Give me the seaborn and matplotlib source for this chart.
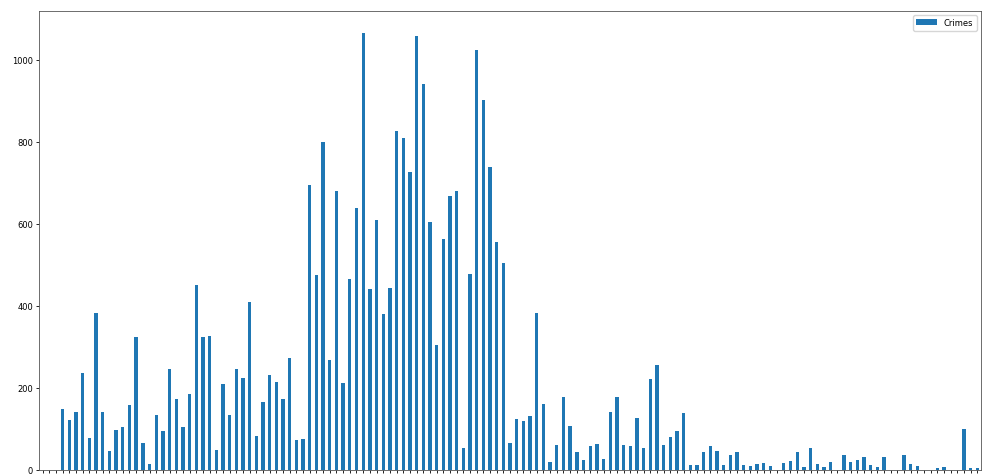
import matplotlib
matplotlib.use('Agg')
import matplotlib.pyplot as plt
import pandas as pd
import seaborn as sns

# Crime counts, one value per category (141 bars)
crimes = [
    0, 0, 0, 148, 121, 142, 237, 78, 383, 140,
    45, 97, 105, 159, 324, 66, 15, 133, 94, 247,
    173, 105, 185, 450, 325, 327, 47, 208, 133, 247,
    223, 410, 82, 165, 231, 214, 172, 272, 72, 76,
    694, 476, 801, 268, 680, 212, 465, 638, 1067, 441,
    610, 380, 443, 826, 810, 727, 1059, 941, 604, 305,
    564, 668, 681, 53, 477, 1024, 902, 738, 556, 504,
    66, 124, 120, 131, 383, 160, 20, 60, 177, 106,
    42, 24, 58, 62, 27, 140, 177, 60, 58, 126,
    52, 221, 255, 60, 79, 95, 138, 11, 11, 43,
    58, 46, 12, 35, 42, 12, 8, 15, 16, 9,
    0, 16, 21, 42, 6, 54, 15, 6, 19, 0,
    35, 19, 23, 31, 12, 6, 31, 0, 0, 35,
    15, 8, 0, 0, 3, 6, 0, 0, 99, 3,
    3,
]
categories = [str(i) for i in range(len(crimes))]

df = pd.DataFrame({'category': categories, 'Crimes': crimes})

fig = plt.figure(figsize=(9.91, 4.77), dpi=100)
ax = fig.add_axes([0.0397, 0.0132, 0.950, 0.9623])

sns.barplot(data=df, x='category', y='Crimes', color='#1f77b4',
            saturation=1, width=0.5, label='Crimes', ax=ax)

ax.set_xlabel('')
ax.set_ylabel('')
ax.set_xticklabels([])
ax.set_yticks([0, 200, 400, 600, 800, 1000])
ax.tick_params(axis='both', labelsize=6, length=2.5, width=0.6, pad=2)
for s in ax.spines.values():
    s.set_linewidth(0.6)
    s.set_color('#555555')
ax.legend(loc='upper right', fontsize=6, handlelength=2.5,
          borderaxespad=0.5, framealpha=0.8)

fig.savefig('out.png', dpi=100)
